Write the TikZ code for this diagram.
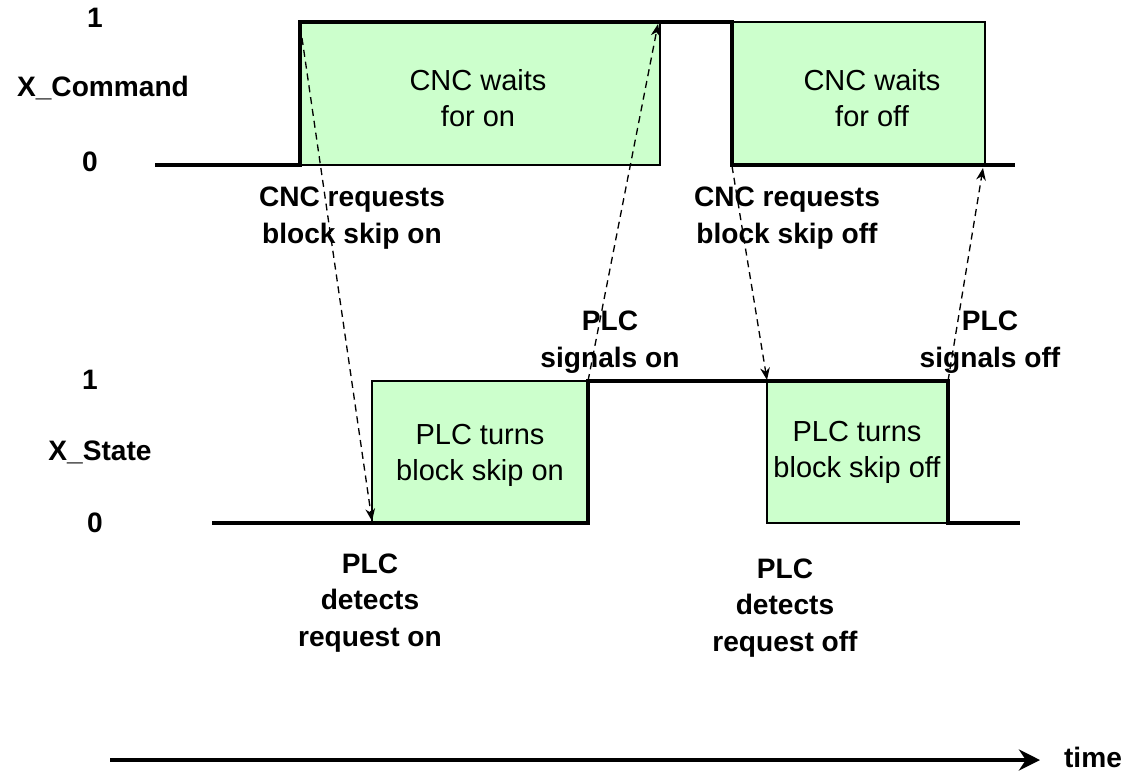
\documentclass[tikz,border=0pt]{standalone}
\usepackage{fontspec}
\setmainfont{Liberation Sans}
\usetikzlibrary{arrows.meta}
\definecolor{waitgreen}{HTML}{CCFFCC}

\begin{document}
\begin{tikzpicture}[x=0.02cm, y=-0.02cm,
  sig/.style={line width=2.2pt, line join=miter},
  waitbox/.style={fill=waitgreen, draw=black, line width=0.8pt},
  lbl/.style={font=\fontsize{16}{21}\selectfont\bfseries, align=center, inner sep=0pt},
  boxtxt/.style={font=\fontsize{16.5}{20.5}\selectfont, align=center, inner sep=0pt},
  req/.style={dash pattern=on 4pt off 2.8pt, line width=0.75pt, -{Stealth[length=7pt,width=5.5pt]}}]

\useasboundingbox (0,0) rectangle (1139,772);

% Waiting boxes
\draw[waitbox] (300,22) rectangle (660,165);
\draw[waitbox] (732,22) rectangle (985,165);
\draw[waitbox] (372,381) rectangle (588,523);
\draw[waitbox] (767,381) rectangle (948,523);

% Signals
\draw[sig] (155,165) -- (300,165) -- (300,22) -- (732,22) -- (732,165) -- (1015,165);
\draw[sig] (212,523) -- (588,523) -- (588,381) -- (948,381) -- (948,523) -- (1020,523);

% Levels and signal names
\node[lbl] (cmdHi) at (95,18) {1};
\node[lbl] (cmdName) at (103,88) {X\_Command};
\node[lbl] (cmdLo) at (90,162) {0};
\node[lbl] (stHi) at (90,380) {1};
\node[lbl] (stName) at (100,452) {X\_State};
\node[lbl] (stLo) at (95,523) {0};

% Box texts
\node[boxtxt] (waitOn) at (478,98) {CNC waits\\for on};
\node[boxtxt] (waitOff) at (872,98) {CNC waits\\for off};
\node[boxtxt] (turnOn) at (480,455) {PLC turns\\block skip on};
\node[boxtxt] (turnOff) at (857,452) {PLC turns\\block skip off};

% Event labels
\node[lbl] (reqOn) at (352,218) {CNC requests\\block skip on};
\node[lbl] (reqOff) at (787,218) {CNC requests\\block skip off};
\node[lbl] (ackOnLbl) at (610,342) {PLC\\signals on};
\node[lbl] (ackOffLbl) at (990,342) {PLC\\signals off};
\node[lbl] (detOnLbl) at (370,603) {PLC\\detects\\request on};
\node[lbl] (detOffLbl) at (785,608) {PLC\\detects\\request off};

% Handshake
\coordinate (cmdOn) at (302,38);
\coordinate (detOn) at (372,521);
\coordinate (sigOn) at (588,381);
\coordinate (ackOn) at (658,24);
\coordinate (cmdOff) at (732,166);
\coordinate (detOff) at (767,380);
\coordinate (sigOff) at (948,381);
\coordinate (ackOff) at (983,168);

\draw[req] (cmdOn) -- (detOn);
\draw[req] (sigOn) -- (ackOn);
\draw[req] (cmdOff) -- (detOff);
\draw[req] (sigOff) -- (ackOff);

% Time axis
\node[lbl] (time) at (1093,757) {time};
\coordinate (t0) at (110,760);
\coordinate (t1) at (1040,760);
\draw[line width=2.2pt, -{Stealth[length=12pt,width=12pt]}] (t0) -- (t1);

\end{tikzpicture}
\end{document}
